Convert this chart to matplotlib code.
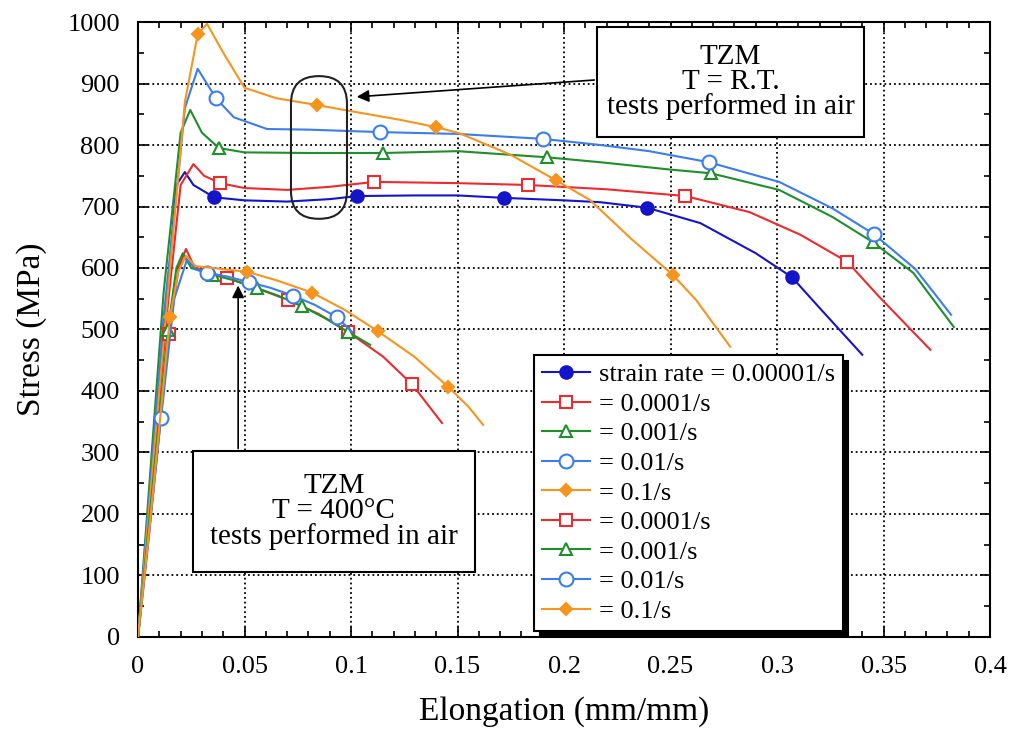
import matplotlib
matplotlib.use("Agg")
import matplotlib.pyplot as plt
from matplotlib.patches import Rectangle, FancyBboxPatch, Shadow
from matplotlib.ticker import MultipleLocator, FuncFormatter

# room temperature curves
rt1_x = [0, 0.006, 0.013, 0.018, 0.022, 0.026, 0.0357, 0.05, 0.07, 0.09, 0.103, 0.13, 0.15,
         0.172, 0.2, 0.217, 0.239, 0.264, 0.29, 0.307, 0.32, 0.34]
rt1_y = [0, 240, 530, 735, 756, 735, 715, 710, 708, 712, 717, 718, 718,
         714, 710, 707, 698, 673, 624, 585, 535, 459]
rt1_mk = [6, 10, 13, 16, 19]

rt2_x = [0, 0.007, 0.014, 0.02, 0.026, 0.031, 0.0385, 0.05, 0.07, 0.09, 0.111, 0.15, 0.183,
         0.22, 0.257, 0.287, 0.311, 0.333, 0.348, 0.372]
rt2_y = [0, 270, 540, 735, 769, 750, 738, 730, 727, 732, 740, 738, 735,
         728, 717, 691, 654, 610, 553, 467]
rt2_mk = [6, 10, 12, 14, 17]

rt3_x = [0, 0.006, 0.012, 0.02, 0.0245, 0.03, 0.038, 0.05, 0.08, 0.115, 0.15, 0.192, 0.217,
         0.25, 0.269, 0.301, 0.326, 0.345, 0.364, 0.383]
rt3_y = [0, 280, 560, 820, 857, 820, 795, 788, 787, 787, 790, 780, 772,
         760, 754, 727, 683, 642, 592, 504]
rt3_mk = [6, 9, 11, 14, 17]

rt4_x = [0, 0.006, 0.012, 0.018, 0.022, 0.028, 0.0366, 0.045, 0.0606, 0.08, 0.1136, 0.15, 0.19,
         0.217, 0.24, 0.268, 0.301, 0.326, 0.3455, 0.365, 0.3817]
rt4_y = [0, 260, 520, 720, 860, 924, 876, 845, 826, 825, 821, 818, 810,
         800, 790, 772, 740, 697, 655, 598, 524]
rt4_mk = [6, 10, 12, 15, 18]

rt5_x = [0, 0.007, 0.013, 0.022, 0.028, 0.0324, 0.04, 0.05, 0.065, 0.084, 0.1, 0.123, 0.14,
         0.151, 0.175, 0.196, 0.212, 0.232, 0.251, 0.262, 0.278]
rt5_y = [0, 280, 520, 870, 980, 997, 950, 893, 876, 865, 855, 841, 829,
         819, 784, 743, 711, 646, 589, 548, 472]
rt5_mk = [4, 9, 12, 15, 18]

# 400 C curves
ht2_x = [0, 0.005, 0.0146, 0.019, 0.0225, 0.026, 0.03, 0.0418, 0.055, 0.0704, 0.085, 0.0986,
         0.115, 0.1286, 0.1427]
ht2_y = [0, 160, 493, 600, 631, 605, 595, 584, 568, 548, 525, 496, 456, 411, 348]
ht2_mk = [2, 7, 9, 11, 13]

ht3_x = [0, 0.005, 0.014, 0.018, 0.021, 0.025, 0.035, 0.045, 0.056, 0.065, 0.077, 0.088,
         0.0986, 0.109]
ht3_y = [0, 180, 499, 600, 624, 600, 589, 580, 567, 556, 538, 518, 496, 475]
ht3_mk = [2, 6, 8, 10, 12]

ht4_x = [0, 0.005, 0.0108, 0.017, 0.023, 0.027, 0.0324, 0.042, 0.052, 0.062, 0.0728, 0.083,
         0.0934, 0.1005]
ht4_y = [0, 165, 356, 550, 614, 598, 592, 586, 577, 568, 555, 540, 520, 496]
ht4_mk = [2, 6, 8, 10, 12]

ht5_x = [0, 0.006, 0.015, 0.019, 0.0225, 0.027, 0.035, 0.051, 0.065, 0.0817, 0.097, 0.1127,
         0.13, 0.1455, 0.155, 0.162]
ht5_y = [0, 200, 520, 595, 620, 603, 600, 594, 580, 560, 532, 497, 455, 407, 375, 345]
ht5_mk = [2, 7, 9, 11, 13]

labels = ['strain rate = 0.00001/s', '= 0.0001/s', '= 0.001/s', '= 0.01/s', '= 0.1/s',
          '= 0.0001/s', '= 0.001/s', '= 0.01/s', '= 0.1/s']

c_dblue = '#1414c8'
c_red = '#ec2a2f'
c_green = '#1f8f2c'
c_lblue = '#3b7ded'
c_orange = '#f7941e'

plt.rcParams['font.family'] = ['Liberation Serif', 'DejaVu Serif']

fig = plt.figure(figsize=(10.12, 7.31), dpi=100)
ax = fig.add_axes([0.1364, 0.1286, 0.8419, 0.8413])

def curve(x, y, mk, color, marker, filled, label, ms=9):
    fc = color if filled else 'white'
    ax.plot(x, y, color=color, lw=1.5, marker=marker, markevery=mk, ms=ms,
            mfc=fc, mec=color, mew=1.5, label=label, zorder=3)

curve(rt1_x, rt1_y, rt1_mk, c_dblue, 'o', True, labels[0])
curve(rt2_x, rt2_y, rt2_mk, c_red, 's', False, labels[1])
curve(rt3_x, rt3_y, rt3_mk, c_green, '^', False, labels[2])
curve(rt4_x, rt4_y, rt4_mk, c_lblue, 'o', False, labels[3], ms=10)
curve(rt5_x, rt5_y, rt5_mk, c_orange, 'D', True, labels[4], ms=6)
curve(ht2_x, ht2_y, ht2_mk, c_red, 's', False, labels[5])
curve(ht3_x, ht3_y, ht3_mk, c_green, '^', False, labels[6])
curve(ht4_x, ht4_y, ht4_mk, c_lblue, 'o', False, labels[7], ms=10)
curve(ht5_x, ht5_y, ht5_mk, c_orange, 'D', True, labels[8], ms=6)

ax.set_xlim(0, 0.4)
ax.set_ylim(0, 1000)
ax.xaxis.set_major_locator(MultipleLocator(0.05))
ax.xaxis.set_minor_locator(MultipleLocator(0.01))
ax.yaxis.set_major_locator(MultipleLocator(100))
ax.yaxis.set_minor_locator(MultipleLocator(50))
ax.xaxis.set_major_formatter(FuncFormatter(lambda v, p: '%g' % round(v, 3)))
ax.tick_params(which='both', direction='in', top=True, right=True, labelsize=19, width=1.2)
ax.tick_params(which='major', length=7)
ax.tick_params(axis='x', which='major', pad=14)
ax.tick_params(axis='y', which='major', pad=13)
ax.tick_params(which='minor', length=4)
ax.grid(True, which='major', ls=':', color='k', lw=1.3)
for sp in ax.spines.values():
    sp.set_linewidth(1.5)

ax.set_xlabel('Elongation (mm/mm)', fontsize=24, labelpad=13)
ax.set_ylabel('Stress (MPa)', fontsize=24, labelpad=15)

# text boxes with shadow
def note_box(x0, y0, x1, y1, text):
    r = Rectangle((x0, y0), x1 - x0, y1 - y0, fc='white', ec='k', lw=1.5, zorder=6)
    ax.add_patch(r)
    sh = Shadow(r, 4, -4, fc='k', ec='k', alpha=1.0, zorder=5.9)
    ax.add_patch(sh)
    ax.text((x0 + x1) / 2, (y0 + y1) / 2, text, ha='center', va='center', fontsize=21,
            linespacing=0.95, zorder=7)

note_box(0.2155, 813, 0.3408, 992, 'TZM\nT = R.T.\ntests performed in air')
note_box(0.0258, 106, 0.158, 302, 'TZM\nT = 400°C\ntests performed in air')

# pill outline around the room temperature curves
pill = FancyBboxPatch((0.0718, 680), 0.0263, 232, boxstyle='round,pad=0,rounding_size=0.013',
                      mutation_aspect=3463, fc='none', ec='#222222', lw=1.5, zorder=4)
ax.add_patch(pill)

ax.annotate('', xy=(0.1014, 878), xytext=(0.2155, 906),
            arrowprops=dict(arrowstyle='-|>', color='k', lw=1.2, mutation_scale=18), zorder=5)
ax.annotate('', xy=(0.047, 576), xytext=(0.047, 302),
            arrowprops=dict(arrowstyle='-|>', color='k', lw=1.2, mutation_scale=18), zorder=5)

leg = ax.legend(loc='upper left', bbox_to_anchor=(0.465, 0.4585), borderaxespad=0,
                fontsize=19, frameon=True, fancybox=False, edgecolor='k', framealpha=1,
                handlelength=1.8, handletextpad=0.35, labelspacing=0.23, borderpad=0.3,
                shadow={'color': 'k', 'alpha': 1.0, 'ox': 4, 'oy': -4})
leg.get_frame().set_linewidth(1.5)
leg.set_zorder(8)

fig.savefig('out.png', dpi=100)
